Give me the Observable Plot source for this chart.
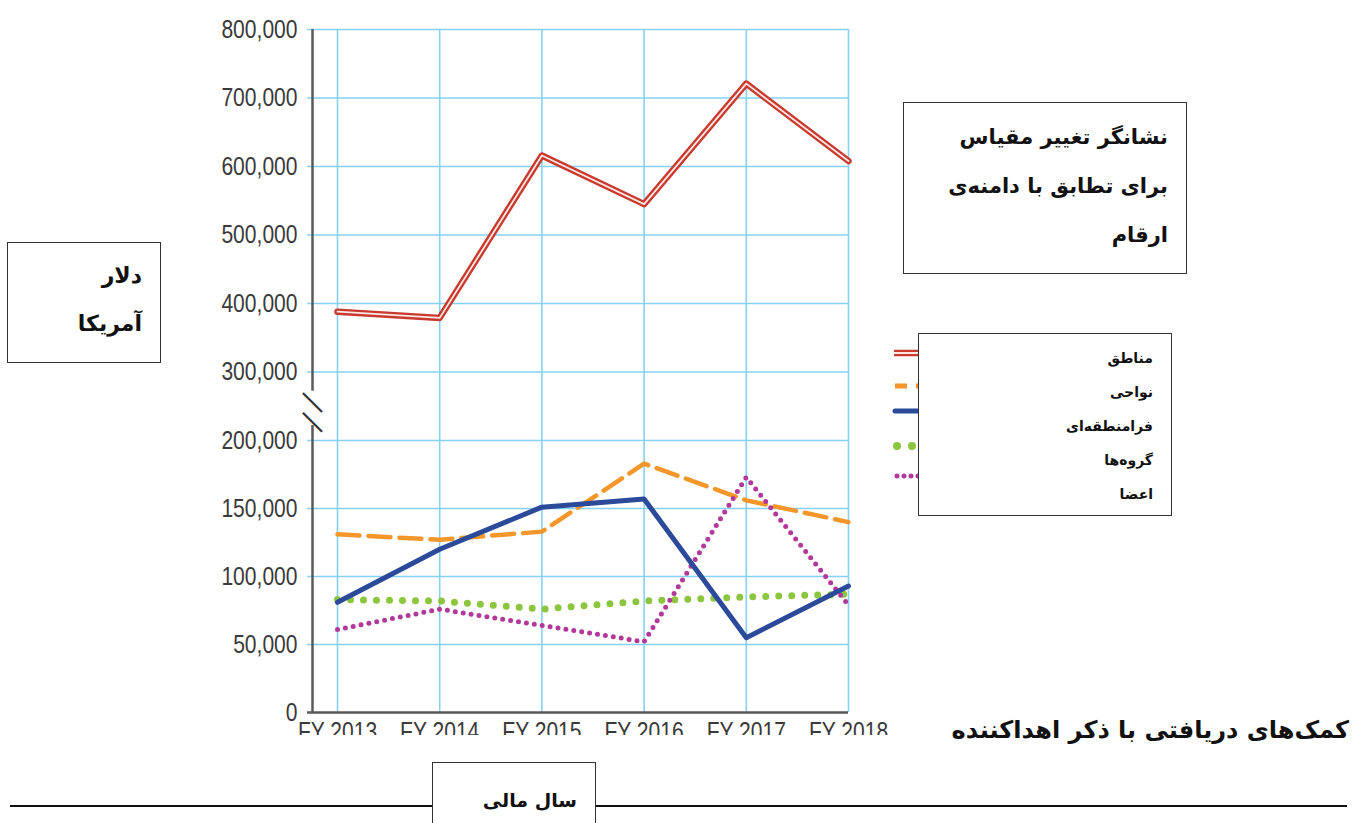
<!DOCTYPE html>
<html>
<head>
<meta charset="utf-8">
<script src="https://cdn.jsdelivr.net/npm/d3@7"></script>
<script src="https://cdn.jsdelivr.net/npm/@observablehq/plot@0.6"></script>
<style>
  html, body { margin: 0; padding: 0; background: #fff; }
  #wrap { position: relative; width: 1363px; height: 823px; overflow: hidden; background: #fff; }
  #chart { position: absolute; left: 0; top: 0; width: 1363px; height: 735px; overflow: hidden; }
  .box { position: absolute; background: #fff; border: 1.5px solid #333; box-sizing: border-box;
         direction: rtl; font-family: "DejaVu Sans", sans-serif; font-weight: bold; color: #111; }
  .fa { direction: rtl; font-family: "DejaVu Sans", sans-serif; font-weight: bold; color: #111; position: absolute; }
  #hline { position: absolute; left: 10px; top: 805px; width: 1337px; height: 0; border-top: 2px solid #111; }
  #swatch { position: absolute; left: 888px; top: 340px; }
</style>
</head>
<body>
<div id="wrap">
  <div id="chart"></div>
  <svg id="swatch" width="50" height="150"></svg>
  <div class="box" style="left:903px; top:102px; width:284px; height:172px; font-size:21px; line-height:49px; padding:10px 18px 0 0; text-align:right;">
    نشانگر تغییر مقیاس<br>برای تطابق با دامنه‌ی<br>ارقام
  </div>
  <div class="box" style="left:7px; top:242px; width:154px; height:121px; font-size:22px; line-height:48px; padding:9px 18px 0 0; text-align:right;">
    دلار<br>آمریکا
  </div>
  <div class="box" id="legend" style="left:918px; top:333px; width:254px; height:183px; font-size:14px; line-height:34px; padding:7px 18px 0 0; text-align:right;"></div>
  <div class="fa" style="right:14px; top:716px; font-size:24px; white-space:nowrap;">کمک‌های دریافتی با ذکر اهداکننده</div>
  <div id="hline"></div>
  <div class="box" style="left:432px; top:762px; width:164px; height:80px; font-size:19px; padding:26px 18px 0 0; text-align:right;">سال مالی</div>
</div>
<script>
// ---- data ----
const years = [2013, 2014, 2015, 2016, 2017, 2018];
const seriesNames = ["مناطق", "نواحی", "فرامنطقه‌ای", "گروه‌ها", "اعضا"];
const manategh = [388000, 379000, 616000, 545000, 721000, 608000];
const navahi = [131000, 127000, 133000, 183000, 156000, 140000];
const faramantaghei = [81000, 120000, 151000, 157000, 55000, 93000];
const goruhha = [83000, 82000, 76000, 82000, 85000, 87000];
const aza = [61000, 76000, 64000, 52000, 173000, 79000];
const yTicks = [0, 50000, 100000, 150000, 200000, 300000, 400000, 500000, 600000, 700000, 800000];
const yBreakLow = 222000, yBreakHigh = 272000;   // axis break between these values
const breakMarks = [257000, 228000];

// ---- build tables ----
const toRows = (vals) => years.map((yr, i) => ({year: yr, value: vals[i]}));
const rRed = toRows(manategh), rOrange = toRows(navahi), rBlue = toRows(faramantaghei),
      rGreen = toRows(goruhha), rPurple = toRows(aza);

const W = 1363, H = 740;
const mL = 312, mR = W - 848, mT = 29, mB = H - 712;
const step = (848 - 337) / 5;
const x0 = years[0] - (337 - mL) / step;
const gridColor = "#86d2f5";
const axisColor = "#5a5a5a";
const NARROW = 0.81;

const plot = Plot.plot({
  width: W, height: H,
  marginLeft: mL, marginRight: mR, marginTop: mT, marginBottom: mB,
  style: { fontFamily: "'Liberation Sans', Arial, sans-serif", fontSize: "26px", color: "#3a3a3a", background: "transparent", overflow: "visible" },
  x: { type: "linear", domain: [x0, years[years.length - 1]], ticks: years, tickFormat: d => "FY " + d, tickSize: 0, tickPadding: 9, label: null },
  y: { type: "linear", domain: [0, 200000, 800000], range: [712, 440, 29], ticks: yTicks, tickFormat: d3.format(","), tickSize: 0, tickPadding: 15, label: null },
  marks: [
    // grid
    Plot.ruleX(years, { x: d => d, y1: 0, y2: yTicks[yTicks.length - 1], stroke: gridColor, strokeWidth: 1.6 }),
    Plot.ruleY(yTicks.filter(d => d > 0), { y: d => d, x1: x0, x2: years[years.length - 1], stroke: gridColor, strokeWidth: 1.6, insetLeft: -5 }),
    // axes lines
    Plot.ruleY([0], { x1: x0, x2: years[years.length - 1], stroke: axisColor, strokeWidth: 2.5, insetLeft: -5 }),
    Plot.ruleX([x0], { y1: 0, y2: yBreakLow, stroke: axisColor, strokeWidth: 2.5 }),
    Plot.ruleX([x0], { y1: yBreakHigh, y2: yTicks[yTicks.length - 1], stroke: axisColor, strokeWidth: 2.5 }),
    Plot.text(breakMarks, { x: x0, y: d => d, text: () => "—", rotate: 45, fontSize: 30, fill: "#333", dx: 1, fontFamily: "DejaVu Sans" }),
    // series
    Plot.line(rGreen, { x: "year", y: "value", stroke: "#8cc63f", strokeWidth: 7, strokeDasharray: "0 13", strokeLinecap: "round" }),
    Plot.line(rOrange, { x: "year", y: "value", stroke: "#f5962a", strokeWidth: 4.5, strokeDasharray: "22 9" }),
    Plot.line(rPurple, { x: "year", y: "value", stroke: "#b2389a", strokeWidth: 5, strokeDasharray: "0 8", strokeLinecap: "round" }),
    Plot.line(rBlue, { x: "year", y: "value", stroke: "#2b4a9a", strokeWidth: 5 }),
    Plot.line(rRed, { x: "year", y: "value", stroke: "#c9392d", strokeWidth: 6.5 }),
    Plot.line(rRed, { x: "year", y: "value", stroke: "#fbe9e6", strokeWidth: 1.8 })
  ]
});
document.getElementById("chart").appendChild(plot);

// condense the axis tick labels (narrow face look) without moving their anchor
plot.querySelectorAll('g[aria-label^="y-axis"] text, g[aria-label^="x-axis"] text').forEach(t => {
  ["x", "dx"].forEach(a => {
    const v = t.getAttribute(a);
    if (v != null && /^-?[\d.]+$/.test(v.trim())) t.setAttribute(a, +v / NARROW);
  });
  t.setAttribute("transform", (t.getAttribute("transform") || "") + ` scale(${NARROW},1)`);
});

// legend labels
document.getElementById("legend").innerHTML = seriesNames.join("<br>");

// legend swatches (partly hidden behind the legend box)
const sw = d3.select("#swatch");
const sy = [13, 46, 71, 106, 136];
sw.append("line").attr("x1", 6).attr("x2", 45).attr("y1", sy[0]).attr("y2", sy[0]).attr("stroke", "#c9392d").attr("stroke-width", 6.5);
sw.append("line").attr("x1", 6).attr("x2", 45).attr("y1", sy[0]).attr("y2", sy[0]).attr("stroke", "#fbe9e6").attr("stroke-width", 1.8);
sw.append("line").attr("x1", 7).attr("x2", 45).attr("y1", sy[1]).attr("y2", sy[1]).attr("stroke", "#f5962a").attr("stroke-width", 5).attr("stroke-dasharray", "12 9");
sw.append("line").attr("x1", 7).attr("x2", 45).attr("y1", sy[2]).attr("y2", sy[2]).attr("stroke", "#2b4a9a").attr("stroke-width", 5).attr("stroke-linecap", "round");
sw.append("line").attr("x1", 9).attr("x2", 45).attr("y1", sy[3]).attr("y2", sy[3]).attr("stroke", "#8cc63f").attr("stroke-width", 8).attr("stroke-dasharray", "0 15").attr("stroke-linecap", "round");
sw.append("line").attr("x1", 9).attr("x2", 45).attr("y1", sy[4]).attr("y2", sy[4]).attr("stroke", "#b2389a").attr("stroke-width", 5).attr("stroke-dasharray", "0 7").attr("stroke-linecap", "round");
</script>
</body>
</html>
